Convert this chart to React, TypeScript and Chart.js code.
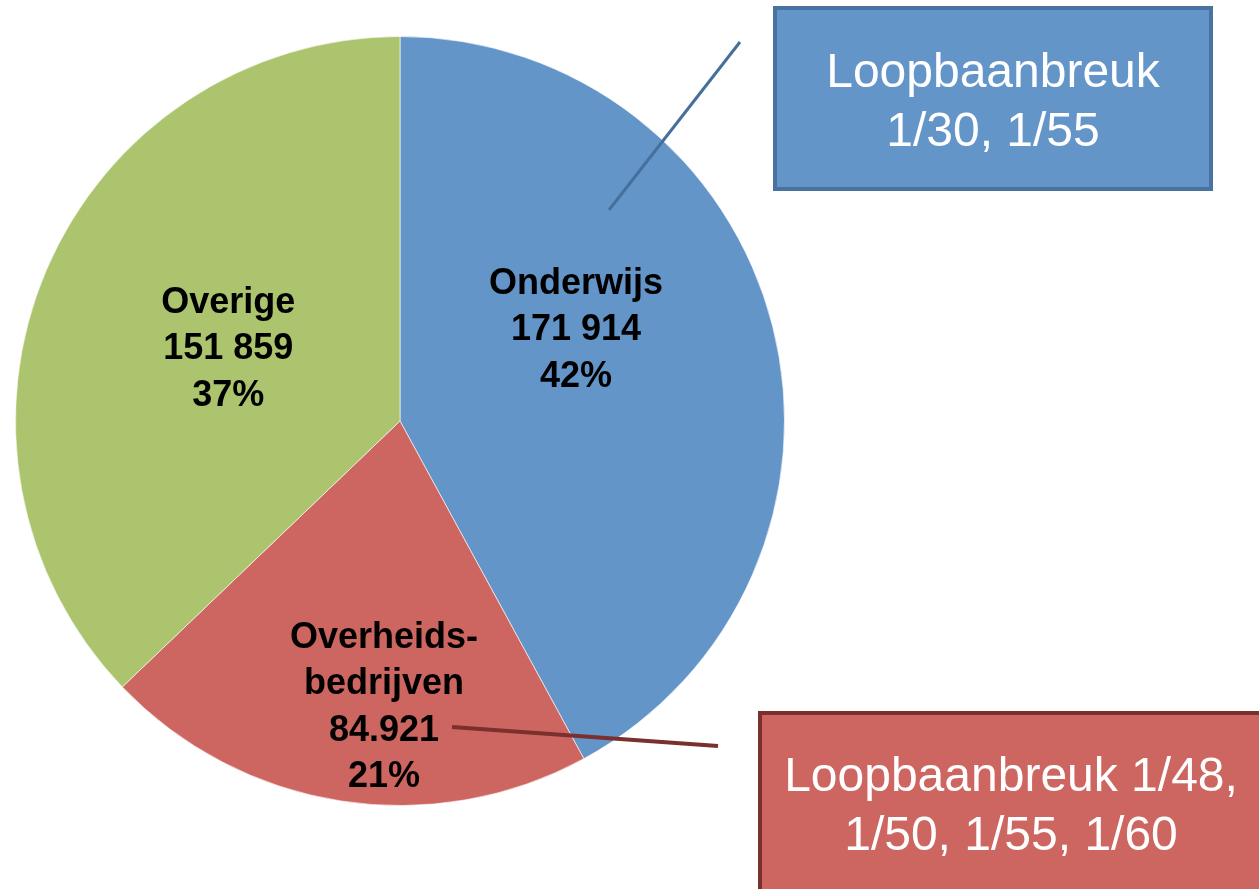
import React, { useEffect, useRef } from "react";
import { Chart, registerables } from "chart.js";

Chart.register(...registerables);

const categories = ["Onderwijs", "Overheidsbedrijven", "Overige"];
const labelLines = [["Onderwijs"], ["Overheids-", "bedrijven"], ["Overige"]];
const valueTexts = ["171 914", "84.921", "151 859"];
const values = [171914, 84921, 151859];
const colors = ["#6395C9", "#CD6660", "#ABC46D"];
// label anchor: angle from top (deg, clockwise) and radius fraction
const labelAngles = [62.7, 183.2, 292.7];
const labelRadii = [0.515, 0.746, 0.484];

const calloutTexts = [["Loopbaanbreuk", "1/30, 1/55"], ["Loopbaanbreuk 1/48,", "1/50, 1/55, 1/60"]];

const overlayPlugin = {
  id: "overlay",
  afterDatasetsDraw(chart: any) {
    const ctx = chart.ctx as CanvasRenderingContext2D;
    const meta = chart.getDatasetMeta(0);
    const arc0 = meta.data[0] as any;
    const cx = arc0.x, cy = arc0.y, R = arc0.outerRadius;
    const total = values.reduce((a, b) => a + b, 0);

    // slice labels
    ctx.save();
    ctx.fillStyle = "#000";
    ctx.font = "bold 36px 'Liberation Sans', Arial, sans-serif";
    ctx.textAlign = "center";
    ctx.textBaseline = "middle";
    values.forEach((v, i) => {
      const a = (labelAngles[i] * Math.PI) / 180;
      const r = labelRadii[i] * R;
      const x = cx + r * Math.sin(a);
      const y = cy - r * Math.cos(a);
      const pct = Math.round((v / total) * 100) + "%";
      const lines = [...labelLines[i], valueTexts[i], pct];
      const lh = 46.5;
      const y0 = y - ((lines.length - 1) * lh) / 2;
      lines.forEach((t, k) => ctx.fillText(t, x, y0 + k * lh));
    });
    ctx.restore();

    // callout lines
    ctx.save();
    ctx.lineCap = "butt";
    ctx.strokeStyle = "#46709C";
    ctx.lineWidth = 3;
    ctx.beginPath();
    ctx.moveTo(609, 210);
    ctx.lineTo(740, 42);
    ctx.stroke();
    ctx.strokeStyle = "#7A302C";
    ctx.lineWidth = 4;
    ctx.beginPath();
    ctx.moveTo(452, 727);
    ctx.lineTo(718, 746);
    ctx.stroke();
    ctx.restore();

    // callout boxes
    const boxes = [
      { x: 775, y: 8, w: 436, h: 181, fill: colors[0], stroke: "#4A72A0", tx: 993, ty: 74 },
      { x: 760, y: 713, w: 510, h: 190, fill: colors[1], stroke: "#7A302C", tx: 1011, ty: 778 },
    ];
    boxes.forEach((b, i) => {
      ctx.save();
      ctx.fillStyle = b.fill;
      ctx.fillRect(b.x, b.y, b.w, b.h);
      ctx.strokeStyle = b.stroke;
      ctx.lineWidth = 4;
      ctx.strokeRect(b.x, b.y, b.w, b.h);
      ctx.fillStyle = "#fff";
      ctx.font = "48px 'Liberation Sans', Arial, sans-serif";
      ctx.textAlign = "center";
      ctx.textBaseline = "middle";
      calloutTexts[i].forEach((t, k) => ctx.fillText(t, b.tx, b.ty + k * 59));
      ctx.restore();
    });
  },
};

export default function App() {
  const ref = useRef<HTMLCanvasElement | null>(null);
  useEffect(() => {
    if (!ref.current) return;
    const chart = new Chart(ref.current, {
      type: "pie",
      data: {
        labels: categories,
        datasets: [
          {
            data: values,
            backgroundColor: colors,
            borderColor: "rgba(255,255,255,0.6)",
            borderWidth: 1,
          },
        ],
      },
      options: {
        animation: false,
        responsive: false,
        maintainAspectRatio: false,
        layout: { padding: { left: 15, top: 36, right: 474, bottom: 83 } },
        plugins: { legend: { display: false }, tooltip: { enabled: false } },
      },
      plugins: [overlayPlugin],
    });
    return () => chart.destroy();
  }, []);
  return (
    <div style={{ position: "fixed", left: 0, top: 0, width: 1259, height: 889, background: "#fff" }}>
      <canvas ref={ref} width={1259} height={889} style={{ width: 1259, height: 889 }} />
    </div>
  );
}
